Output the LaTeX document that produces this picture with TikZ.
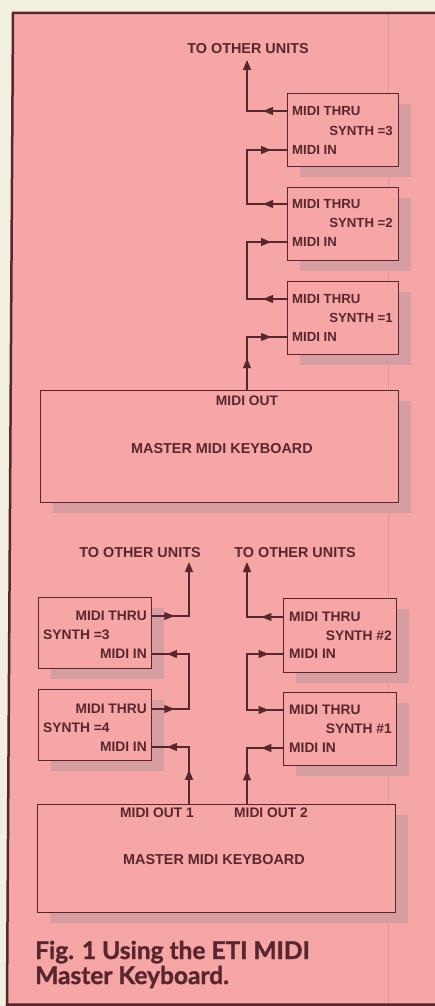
\documentclass[tikz,border=0pt]{standalone}
\usepackage{fontspec}
\setmainfont{Liberation Sans}
\newfontfamily\capfont[BoldFeatures={FakeBold=1.3}]{Lato}
\usetikzlibrary{arrows.meta,decorations.markings,shadows}
\definecolor{pinkbg}{RGB}{246,166,164}
\definecolor{cream}{RGB}{242,238,224}
\definecolor{ink}{RGB}{88,38,46}
\definecolor{shade}{RGB}{214,158,160}
\definecolor{fold}{RGB}{226,152,150}
\tikzset{
  unit/.style={draw=ink, line width=1.3pt, fill=pinkbg, inner sep=0pt, anchor=north west,
    drop shadow={shadow xshift=12pt, shadow yshift=-10pt, fill=shade, opacity=1}},
  lbl/.style={font=\fontsize{13.8}{15}\selectfont\bfseries, text=ink, inner sep=0pt},
  tlbl/.style={font=\fontsize{13.2}{15}\selectfont\bfseries, text=ink, inner sep=0pt},
  big/.style={font=\fontsize{14.4}{16}\selectfont\bfseries, text=ink, inner sep=0pt},
  conn/.style={draw=ink, line width=1.5pt, line cap=rect},
  midarr/.style={conn, postaction={decorate, decoration={markings,
      mark=at position 0.6 with {\arrow[ink, line width=1pt]{Triangle[length=10pt,width=8pt]}}}}},
  endarr/.style={conn, -{Triangle[length=10pt,width=8pt]}},
  capt/.style={font=\capfont\bfseries\fontsize{24.5}{27}\selectfont, text=ink, inner sep=0pt, anchor=base west}
}
\begin{document}
\begin{tikzpicture}[x=1pt,y=-1pt]
\useasboundingbox (0,0) rectangle (435,1006);
% background
\fill[cream] (0,0) rectangle (435,1006);
\fill[pinkbg] (13,13) -- (435,13) -- (435,1004) -- (7,1004) -- cycle;
\draw[fold, line width=1pt] (388,13) -- (388,1004);
\draw[ink, line width=2.5pt] (435,13) -- (13,13) -- (7,1004.5) -- (435,1004.5);

% ================= TOP DIAGRAM =================
\coordinate (trA) at (247,0);
\coordinate (tipA) at (247,60);
\node[big] (t1) at (248,49) {TO OTHER UNITS};

\node[unit, minimum width=111pt, minimum height=73pt] (s3t) at (287,93) {};
\node[unit, minimum width=111pt, minimum height=73pt] (s2t) at (287,187) {};
\node[unit, minimum width=111pt, minimum height=73pt] (s1t) at (287,281) {};
\node[unit, minimum width=358pt, minimum height=112pt] (k1) at (40,390) {};

\node[tlbl, anchor=west] (s3tthru) at (292,111) {MIDI THRU};
\node[tlbl, anchor=east] (s3tsyn) at (393,131) {SYNTH =3};
\node[tlbl, anchor=west] (s3tin) at (292,150) {MIDI IN};
\node[tlbl, anchor=west] (s2tthru) at (292,204) {MIDI THRU};
\node[tlbl, anchor=east] (s2tsyn) at (393,223) {SYNTH =2};
\node[tlbl, anchor=west] (s2tin) at (292,242) {MIDI IN};
\node[tlbl, anchor=west] (s1tthru) at (292,299) {MIDI THRU};
\node[tlbl, anchor=east] (s1tsyn) at (393,318) {SYNTH =1};
\node[tlbl, anchor=west] (s1tin) at (292,337) {MIDI IN};
\node[lbl] (k1out) at (247,401) {MIDI OUT};
\node[big] (k1name) at (222,449) {MASTER MIDI KEYBOARD};

% connectors top
\draw[midarr] (s3t.west |- s3tthru) -- (trA |- s3tthru);
\draw[endarr] (trA |- s3tthru) -- (tipA);
\draw[midarr] (s2t.west |- s2tthru) -- (trA |- s2tthru);
\draw[conn] (trA |- s2tthru) -- (trA |- s3tin);
\draw[midarr] (trA |- s3tin) -- (s3t.west |- s3tin);
\draw[midarr] (s1t.west |- s1tthru) -- (trA |- s1tthru);
\draw[conn] (trA |- s1tthru) -- (trA |- s2tin);
\draw[midarr] (trA |- s2tin) -- (s2t.west |- s2tin);
\draw[midarr] (k1.north -| trA) -- (trA |- s1tin);
\draw[midarr] (trA |- s1tin) -- (s1t.west |- s1tin);

% ================= BOTTOM DIAGRAM =================
\coordinate (trL) at (189,0);
\coordinate (trR) at (247,0);
\coordinate (tipL) at (189,562);
\coordinate (tipR) at (247,562);
\node[big] (t2) at (140,553) {TO OTHER UNITS};
\node[big] (t3) at (295,553) {TO OTHER UNITS};

\node[unit, minimum width=113pt, minimum height=71pt] (l3) at (38,597) {};
\node[unit, minimum width=113pt, minimum height=71pt] (l4) at (38,689) {};
\node[unit, minimum width=113pt, minimum height=74pt] (r2) at (283,598) {};
\node[unit, minimum width=113pt, minimum height=73pt] (r1) at (283,692) {};
\node[unit, minimum width=358pt, minimum height=108pt] (k2) at (37,804) {};

\node[lbl, anchor=east] (l3thru) at (147,616) {MIDI THRU};
\node[lbl, anchor=west] (l3syn) at (43,635) {SYNTH =3};
\node[lbl, anchor=east] (l3in) at (147,654) {MIDI IN};
\node[lbl, anchor=east] (l4thru) at (147,709) {MIDI THRU};
\node[lbl, anchor=west] (l4syn) at (43,728) {SYNTH =4};
\node[lbl, anchor=east] (l4in) at (147,747) {MIDI IN};

\node[lbl, anchor=west] (r2thru) at (289,617) {MIDI THRU};
\node[lbl, anchor=east] (r2syn) at (392,636) {SYNTH \#2};
\node[lbl, anchor=west] (r2in) at (289,654) {MIDI IN};
\node[lbl, anchor=west] (r1thru) at (289,710) {MIDI THRU};
\node[lbl, anchor=east] (r1syn) at (392,729) {SYNTH \#1};
\node[lbl, anchor=west] (r1in) at (289,748) {MIDI IN};

\node[lbl] (k2out1) at (157,813) {MIDI OUT 1};
\node[lbl] (k2out2) at (271,813) {MIDI OUT 2};
\node[big] (k2name) at (214,860) {MASTER MIDI KEYBOARD};

% connectors bottom left
\draw[midarr] (l3.east |- l3thru) -- (trL |- l3thru);
\draw[endarr] (trL |- l3thru) -- (tipL);
\draw[midarr] (l4.east |- l4thru) -- (trL |- l4thru);
\draw[conn] (trL |- l4thru) -- (trL |- l3in);
\draw[midarr] (trL |- l3in) -- (l3.east |- l3in);
\draw[midarr] (k2.north -| trL) -- (trL |- l4in);
\draw[midarr] (trL |- l4in) -- (l4.east |- l4in);

% connectors bottom right
\draw[midarr] (r2.west |- r2thru) -- (trR |- r2thru);
\draw[endarr] (trR |- r2thru) -- (tipR);
\draw[midarr] (trR |- r1thru) -- (r1.west |- r1thru);
\draw[conn] (trR |- r1thru) -- (trR |- r2in);
\draw[midarr] (trR |- r2in) -- (r2.west |- r2in);
\draw[midarr] (r1.west |- r1in) -- (trR |- r1in);
\draw[midarr] (k2.north -| trR) -- (trR |- r1in);

% caption
\node[capt] (cap1) at (35,959) {Fig. 1 Using the ETI MIDI};
\node[capt] (cap2) at (35,984) {Master Keyboard.};
\end{tikzpicture}
\end{document}
